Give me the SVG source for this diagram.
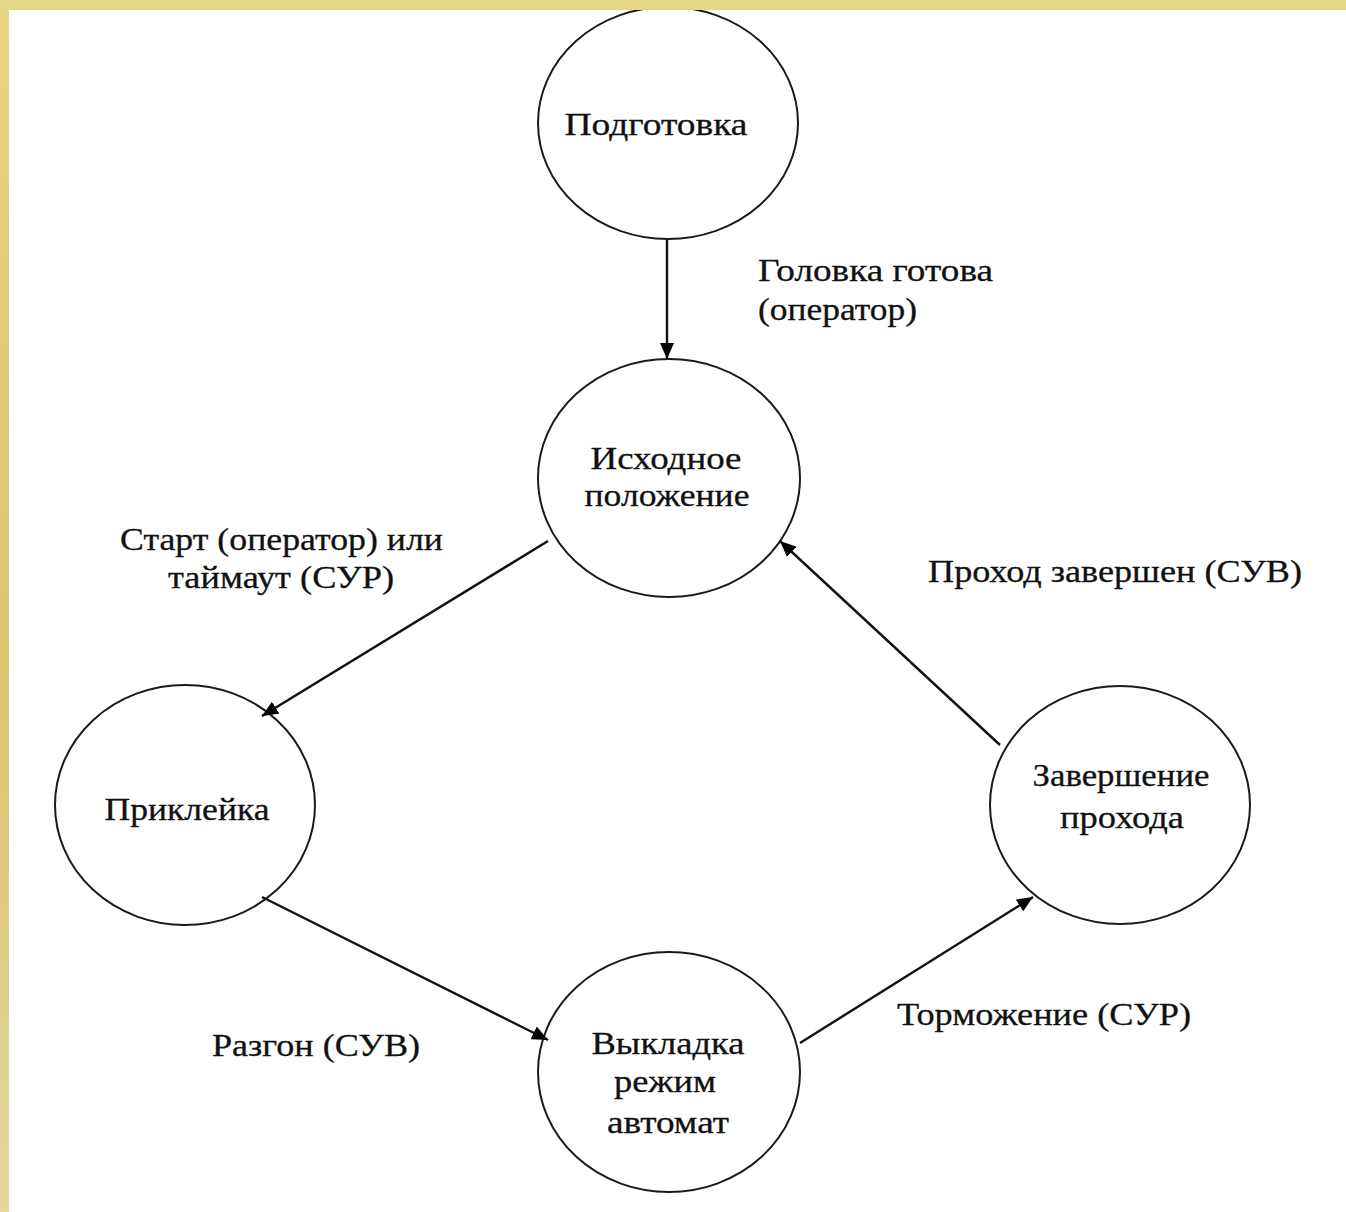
<svg xmlns="http://www.w3.org/2000/svg" width="1346" height="1212" viewBox="0 0 1346 1212">
<defs>
<linearGradient id="lg" x1="0" y1="0" x2="0" y2="1">
<stop offset="0" stop-color="#e6d688"/>
<stop offset="0.55" stop-color="#d9c570"/>
<stop offset="1" stop-color="#e2d79e"/>
</linearGradient>
<marker id="ah" viewBox="0 0 16 14" refX="16" refY="7" markerWidth="16" markerHeight="14" markerUnits="userSpaceOnUse" orient="auto">
<path d="M0,0 L16,7 L0,14 z" fill="#000"/>
</marker>
<style>
.n{fill:#fff;stroke:#1a1a1a;stroke-width:2}
.t{font-family:"Liberation Serif","Times New Roman",serif;font-size:32px;fill:#111;stroke:#111;stroke-width:0.3}
.c{text-anchor:middle}
.e{stroke:#111;stroke-width:2.4;fill:none;marker-end:url(#ah)}
</style>
</defs>
<rect width="1346" height="1212" fill="#fff"/>
<g id="n1"><ellipse class="n" cx="668" cy="123" rx="130" ry="116"/><text class="t c" x="656" y="135" textLength="183" lengthAdjust="spacingAndGlyphs">Подготовка</text></g>
<g id="n2"><ellipse class="n" cx="669" cy="478" rx="131" ry="119"/><text class="t c" x="666" y="469" textLength="151" lengthAdjust="spacingAndGlyphs">Исходное</text><text class="t c" x="667" y="506" textLength="165" lengthAdjust="spacingAndGlyphs">положение</text></g>
<g id="n3"><ellipse class="n" cx="185" cy="805" rx="130" ry="120"/><text class="t c" x="187" y="820" textLength="165" lengthAdjust="spacingAndGlyphs">Приклейка</text></g>
<g id="n4"><ellipse class="n" cx="1120" cy="805" rx="130" ry="119"/><text class="t c" x="1121" y="786" textLength="177" lengthAdjust="spacingAndGlyphs">Завершение</text><text class="t c" x="1122" y="828" textLength="124" lengthAdjust="spacingAndGlyphs">прохода</text></g>
<g id="n5"><ellipse class="n" cx="669" cy="1072" rx="131" ry="120"/><text class="t c" x="668" y="1054" textLength="153" lengthAdjust="spacingAndGlyphs">Выкладка</text><text class="t c" x="665" y="1092" textLength="102" lengthAdjust="spacingAndGlyphs">режим</text><text class="t c" x="668" y="1133" textLength="122" lengthAdjust="spacingAndGlyphs">автомат</text></g>
<g id="edges">
<line class="e" x1="667" y1="240" x2="667" y2="359"/>
<line class="e" x1="548" y1="541" x2="262" y2="716"/>
<line class="e" x1="262" y1="897" x2="548" y2="1040"/>
<line class="e" x1="800" y1="1043" x2="1033" y2="897"/>
<line class="e" x1="1000" y1="745" x2="780" y2="541"/>
</g>
<g id="labels">
<text class="t" x="758" y="281" textLength="235" lengthAdjust="spacingAndGlyphs">Головка готова</text>
<text class="t" x="758" y="320" textLength="159" lengthAdjust="spacingAndGlyphs">(оператор)</text>
<text class="t" x="120" y="550" textLength="323" lengthAdjust="spacingAndGlyphs">Старт (оператор) или</text>
<text class="t c" x="281" y="588" textLength="226" lengthAdjust="spacingAndGlyphs">таймаут (СУР)</text>
<text class="t" x="928" y="582" textLength="374" lengthAdjust="spacingAndGlyphs">Проход завершен (СУВ)</text>
<text class="t" x="212" y="1056" textLength="208" lengthAdjust="spacingAndGlyphs">Разгон (СУВ)</text>
<text class="t" x="897" y="1025" textLength="294" lengthAdjust="spacingAndGlyphs">Торможение (СУР)</text>
</g>
<rect x="0" y="0" width="1346" height="10" fill="#e6d688"/>
<rect x="0" y="0" width="9" height="1212" fill="url(#lg)"/>
</svg>
